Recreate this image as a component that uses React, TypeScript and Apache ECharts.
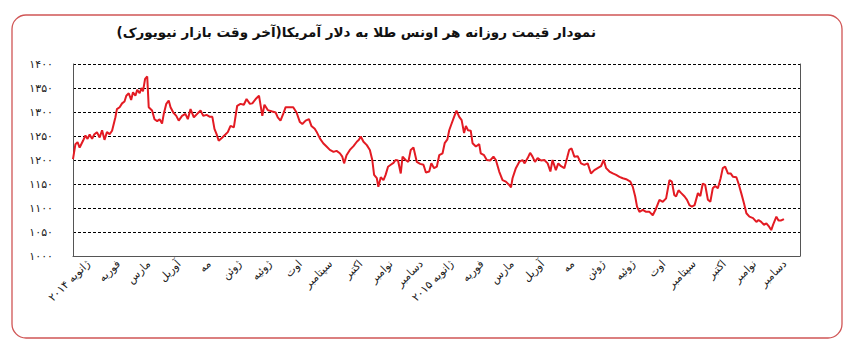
import { useEffect, useRef } from "react";
import * as echarts from "echarts";

const titleText = "نمودار قیمت روزانه هر اونس طلا به دلار آمریکا(آخر وقت بازار نیویورک)";

const monthLabels = [
  "ژانویه ۲۰۱۴", "فوریه", "مارس", "آوریل", "مه", "ژوئن", "ژوئیه", "اوت", "سپتامبر", "اکتبر", "نوامبر", "دسامبر",
  "ژانویه ۲۰۱۵", "فوریه", "مارس", "آوریل", "مه", "ژوئن", "ژوئیه", "اوت", "سپتامبر", "اکتبر", "نوامبر", "دسامبر",
];

const yMin = 1000;
const yMax = 1400;
const yStep = 50;

// [position in months since Jan 2014, price in USD]
const goldPrice: [number, number][] = [
  [0, 1202], [0.08, 1233], [0.15, 1237], [0.22, 1226], [0.33, 1240], [0.41, 1251], [0.48, 1244], [0.55, 1253],
  [0.63, 1244], [0.7, 1253], [0.79, 1258], [0.88, 1247], [0.96, 1262], [1.04, 1242], [1.12, 1258], [1.21, 1254],
  [1.29, 1261], [1.4, 1289], [1.45, 1306], [1.54, 1310], [1.62, 1318], [1.7, 1322], [1.76, 1334], [1.84, 1339],
  [1.92, 1325], [1.98, 1341], [2.06, 1334], [2.12, 1346], [2.2, 1339], [2.26, 1350], [2.31, 1343], [2.38, 1369],
  [2.45, 1374], [2.5, 1310], [2.61, 1303], [2.69, 1285], [2.78, 1281], [2.86, 1285], [2.94, 1276], [3.0, 1297],
  [3.08, 1317], [3.16, 1324], [3.22, 1310], [3.31, 1299], [3.41, 1292], [3.49, 1282], [3.6, 1292], [3.71, 1296],
  [3.79, 1285], [3.88, 1306], [3.99, 1289],
  [4.1, 1296], [4.21, 1303], [4.3, 1292], [4.41, 1294], [4.52, 1290], [4.6, 1290], [4.67, 1265], [4.74, 1254],
  [4.81, 1240], [4.93, 1247], [5.03, 1253], [5.11, 1258], [5.2, 1271], [5.31, 1268], [5.42, 1313], [5.53, 1317],
  [5.64, 1315], [5.73, 1327], [5.84, 1317], [5.92, 1318], [6.03, 1327], [6.14, 1334], [6.25, 1292], [6.32, 1315],
  [6.43, 1304], [6.58, 1301], [6.69, 1299], [6.76, 1289], [6.85, 1282], [6.94, 1296], [7.02, 1310], [7.16, 1310],
  [7.27, 1310], [7.38, 1299], [7.49, 1279], [7.57, 1275], [7.68, 1282], [7.79, 1285], [7.87, 1271], [7.98, 1265],
  [8.04, 1259], [8.15, 1245], [8.26, 1235], [8.37, 1228], [8.48, 1221], [8.6, 1217], [8.7, 1219], [8.81, 1214],
  [8.89, 1207], [8.95, 1193], [9.03, 1210], [9.14, 1221], [9.26, 1229], [9.37, 1238], [9.44, 1242], [9.5, 1249],
  [9.59, 1238], [9.7, 1231], [9.8, 1221], [9.88, 1200], [9.94, 1169], [10.03, 1162], [10.08, 1144], [10.16, 1164],
  [10.25, 1158], [10.32, 1169], [10.4, 1186], [10.49, 1190], [10.58, 1194], [10.65, 1200], [10.73, 1199], [10.82, 1172],
  [10.88, 1207], [10.98, 1200], [11.07, 1196], [11.15, 1221], [11.24, 1226], [11.35, 1196], [11.46, 1192], [11.57, 1190],
  [11.65, 1174], [11.76, 1176], [11.83, 1193], [11.92, 1183],
  [12.01, 1186], [12.09, 1210], [12.2, 1214], [12.27, 1235], [12.36, 1243], [12.42, 1262], [12.5, 1276], [12.58, 1290],
  [12.66, 1303], [12.75, 1290], [12.83, 1283], [12.91, 1256], [12.97, 1271], [13.04, 1262], [13.13, 1261], [13.19, 1235],
  [13.3, 1228], [13.41, 1233], [13.46, 1214], [13.57, 1210], [13.66, 1200], [13.77, 1199], [13.88, 1207], [13.96, 1200],
  [14.07, 1176], [14.18, 1158], [14.29, 1155], [14.4, 1148], [14.46, 1143], [14.51, 1162], [14.62, 1183], [14.73, 1196],
  [14.84, 1200], [14.91, 1193], [15.01, 1204], [15.09, 1215], [15.17, 1207], [15.25, 1196], [15.34, 1204], [15.45, 1199],
  [15.56, 1200], [15.67, 1193], [15.76, 1176], [15.83, 1200],
  [15.94, 1179], [16.02, 1193], [16.11, 1187], [16.22, 1183], [16.31, 1204], [16.38, 1221], [16.46, 1224], [16.55, 1207],
  [16.66, 1208], [16.77, 1193], [16.88, 1190], [16.99, 1193], [17.1, 1172], [17.21, 1179], [17.32, 1183], [17.43, 1187],
  [17.52, 1200], [17.6, 1183], [17.71, 1176], [17.82, 1172], [17.93, 1169], [18.04, 1165], [18.15, 1162], [18.26, 1160],
  [18.4, 1155], [18.48, 1144], [18.56, 1124], [18.62, 1103], [18.7, 1092], [18.81, 1096], [18.92, 1092], [19.03, 1092],
  [19.14, 1085], [19.25, 1099], [19.36, 1117], [19.47, 1113], [19.58, 1120], [19.69, 1158], [19.77, 1155], [19.85, 1127],
  [19.91, 1124], [19.99, 1137], [20.08, 1131], [20.19, 1124], [20.27, 1117], [20.35, 1106], [20.43, 1103], [20.52, 1106],
  [20.63, 1131], [20.71, 1125], [20.79, 1151], [20.87, 1148], [20.96, 1117], [21.04, 1113], [21.12, 1141], [21.2, 1146],
  [21.29, 1141], [21.38, 1162], [21.45, 1183], [21.53, 1186], [21.62, 1172], [21.71, 1172], [21.79, 1165], [21.9, 1164],
  [21.97, 1151], [22.06, 1131], [22.15, 1110], [22.23, 1089], [22.33, 1082], [22.45, 1079], [22.56, 1071], [22.63, 1075],
  [22.72, 1071], [22.81, 1065], [22.89, 1068], [22.98, 1061], [23.05, 1054], [23.11, 1065], [23.22, 1082], [23.29, 1074],
  [23.38, 1074], [23.47, 1077],
];

const toFa = (s: string | number) => String(s).replace(/\d/g, (d) => "۰۱۲۳۴۵۶۷۸۹"[Number(d)]);

export default function App() {
  const ref = useRef<HTMLDivElement>(null);
  useEffect(() => {
    document.body.style.margin = "0";
    if (!ref.current) return;
    const chart = echarts.init(ref.current, undefined, { renderer: "svg" });
    const font = '"DejaVu Sans", sans-serif';
    chart.setOption({
      animation: false,
      backgroundColor: "#ffffff",
      graphic: [
        {
          type: "rect",
          silent: true,
          z: -10,
          shape: { x: 12, y: 15, width: 830, height: 323, r: 14 },
          style: { fill: "none", stroke: "#d05555", lineWidth: 1.3 },
        },
        {
          type: "text",
          x: 596,
          y: 32,
          style: {
            text: titleText,
            font: 'bold 13.5px "DejaVu Sans", sans-serif',
            fill: "#111",
            textAlign: "right",
            textVerticalAlign: "middle",
          },
        },
      ],
      grid: { left: 73, right: 62, top: 64, bottom: 100, containLabel: false },
      xAxis: [
        {
          type: "category",
          data: monthLabels,
          boundaryGap: true,
          axisLine: { show: true, lineStyle: { color: "#555", width: 1 } },
          axisTick: { show: false },
          splitLine: { show: false },
          axisLabel: {
            interval: 0,
            rotate: 45,
            margin: 6,
            fontSize: 11,
            color: "#222",
            fontFamily: font,
            formatter: (_v: string, i: number) => monthLabels[i],
          },
        },
        { type: "value", min: 0, max: 24, show: false },
      ],
      yAxis: [
        {
          type: "value",
          min: yMin,
          max: yMax,
          interval: yStep,
          axisLine: { show: true, lineStyle: { color: "#555", width: 1 } },
          axisTick: { show: false },
          axisLabel: {
            formatter: (v: number) => toFa(v),
            margin: 20,
            fontSize: 11,
            color: "#222",
            fontFamily: font,
            verticalAlign: "middle",
            padding: [0, 0, 7, 0],
          },
          splitLine: { show: true, lineStyle: { color: "#000", type: [3, 2], width: 1 } },
        },
        {
          type: "value",
          min: yMin,
          max: yMax,
          interval: yStep,
          position: "right",
          axisLine: { show: true, lineStyle: { color: "#555", width: 1 } },
          axisTick: { show: false },
          axisLabel: { show: false },
          splitLine: { show: false },
        },
      ],
      series: [
        {
          type: "line",
          xAxisIndex: 1,
          yAxisIndex: 0,
          data: goldPrice,
          showSymbol: false,
          symbol: "none",
          lineStyle: { color: "#e31b23", width: 2 },
        },
      ],
    });
    return () => chart.dispose();
  }, []);
  return <div ref={ref} style={{ width: 862, height: 356 }} />;
}
